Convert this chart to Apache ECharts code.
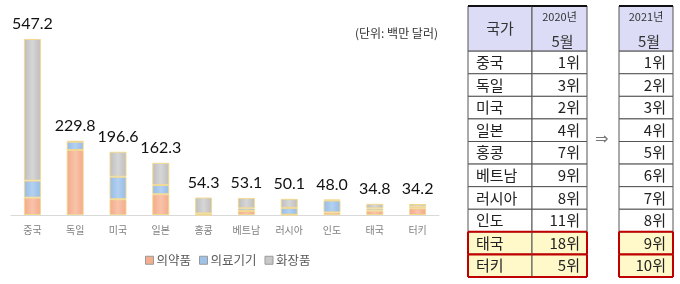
<!DOCTYPE html>
<html><head><meta charset="utf-8">
<script src="https://cdn.jsdelivr.net/npm/echarts@6/dist/echarts.min.js"></script>
<style>html,body{margin:0;padding:0;background:#fff}#c{width:680px;height:284px}</style>
</head><body><div id="c"></div>
<script>
// ---- data ----
const countries = ['중국','독일','미국','일본','홍콩','베트남','러시아','인도','태국','터키'];
const pharma    = [54, 202, 49, 64.5, 1, 12.5, 1, 8, 13.5, 20.8];
const medical   = [53, 26, 70, 29, 4, 8.3, 21, 37, 7, 5];
const cosmetics = [440.2, 1.8, 77.6, 68.8, 49.3, 32.3, 28.1, 3, 14.3, 8.4];
const totals    = [547.2, 229.8, 196.6, 162.3, 54.3, 53.1, 50.1, 48.0, 34.8, 34.2];
const seriesNames = ['의약품','의료기기','화장품'];
const unitText = '(단위: 백만 달러)';
const tableHeaderName = '국가';
const header2020 = ['2020년','5월'];
const header2021 = ['2021년','5월'];
const rank2020 = ['1위','3위','2위','4위','7위','9위','8위','11위','18위','5위'];
const rank2021 = ['1위','2위','3위','4위','5위','6위','7위','8위','9위','10위'];
const highlightRows = ['태국','터키'];

const KR = '"Noto Sans CJK KR", "Noto Sans", sans-serif';
const chart = echarts.init(document.getElementById('c'));

function grad(c1, c2) {
  return new echarts.graphic.LinearGradient(0, 0, 1, 0, [{offset:0,color:c1},{offset:0.5,color:c2},{offset:1,color:c1}]);
}
const colors = [grad('#f4a98a','#f8c3aa'), grad('#95bbe6','#b3d0f0'), grad('#bdbdbd','#d6d6d6')];
const legendColors = ['#f4ae8e','#9fc2ea','#c8c8c8'];

function tableSeries(gridIdx, kind, headerLines, cells, sides) {
  const data = [[0, 0, 2]];
  cells.forEach((c, i) => data.push([0, i + 2, i + 3]));
  return {
    type: 'custom', xAxisIndex: gridIdx, yAxisIndex: gridIdx, silent: true,
    data: data,
    renderItem: function (params, api) {
      const i = params.dataIndex;
      const p0 = api.coord([0, api.value(1)]);
      const p1 = api.coord([0, api.value(2)]);
      const w = api.size([1, 0])[0];
      const x0 = p0[0] - w / 2, x1 = p0[0] + w / 2, ya = p0[1], yb = p1[1];
      const ch = [];
      const isHeader = i === 0;
      const hl = !isHeader && highlightRows.indexOf(countries[i - 1]) >= 0;
      ch.push({type:'rect', shape:{x:x0, y:ya, width:x1-x0, height:yb-ya},
        style:{fill: isHeader ? '#dcdcf6' : (hl ? '#fff8c8' : '#fff'), stroke:'#555', lineWidth:1}});
      if (isHeader) {
        ch.push({type:'line', shape:{x1:x0, y1:ya, x2:x1, y2:ya}, style:{stroke:'#111', lineWidth:2}});
        if (headerLines.length === 1) {
          ch.push({type:'text', style:{text:headerLines[0], x:(x0+x1)/2, y:(ya+yb)/2, align:'center', verticalAlign:'middle', fontSize:15, fontFamily:KR, fill:'#333'}});
        } else {
          ch.push({type:'text', style:{text:headerLines[0], x:(x0+x1)/2, y:ya+11, align:'center', verticalAlign:'middle', fontSize:11, fontFamily:KR, fill:'#333'}});
          ch.push({type:'text', style:{text:headerLines[1], x:(x0+x1)/2 + 3, y:yb-10, align:'center', verticalAlign:'middle', fontSize:15, fontFamily:KR, fill:'#333'}});
        }
      } else {
        const t = cells[i - 1];
        ch.push({type:'text', style:{text:t, x: kind === 'name' ? x0 + 8 : x1 - 7, y:(ya+yb)/2,
          align: kind === 'name' ? 'left' : 'right', verticalAlign:'middle', fontSize:15, fontFamily:KR, fill:'#222'}});
        if (hl) {
          const rs = {stroke:'#c00000', lineWidth:2};
          ch.push({type:'line', shape:{x1:x0, y1:ya, x2:x1, y2:ya}, style:rs});
          ch.push({type:'line', shape:{x1:x0, y1:yb, x2:x1, y2:yb}, style:rs});
          if (sides.left) ch.push({type:'line', shape:{x1:x0, y1:ya, x2:x0, y2:yb}, style:rs});
          if (sides.right) ch.push({type:'line', shape:{x1:x1, y1:ya, x2:x1, y2:yb}, style:rs});
        }
      }
      return {type:'group', children: ch};
    }
  };
}

const barSeries = [pharma, medical, cosmetics].map((d, k) => ({
  name: seriesNames[k], type: 'bar', stack: 'total', barWidth: 17,
  xAxisIndex: 0, yAxisIndex: 0,
  data: d,
  itemStyle: {color: colors[k], borderColor: '#f2d88e', borderWidth: 1},
  label: k === 2 ? {show: true, position: 'top', distance: 7, fontSize: 16, fontFamily: 'Lato, "Liberation Sans", sans-serif', color: '#111',
    formatter: p => totals[p.dataIndex].toFixed(1)} : {show: false}
}));

const tableGrids = [
  {left: 468, width: 64, top: 6, height: 271},
  {left: 532, width: 55, top: 6, height: 271},
  {left: 619, width: 54, top: 6, height: 271}
];
const option = {
  animation: false,
  backgroundColor: '#fff',
  grid: [{left: 11, right: 241, top: 22, bottom: 69}].concat(tableGrids),
  xAxis: [{
    type: 'category', data: countries, gridIndex: 0,
    axisLine: {lineStyle: {color: '#d9d9d9'}}, axisTick: {show: false},
    axisLabel: {fontSize: 10, color: '#7f7f7f', margin: 10, fontFamily: KR}
  }].concat([1,2,3].map(g => ({type:'category', data:['c'], gridIndex:g, show:false}))),
  yAxis: [{type: 'value', gridIndex: 0, min: 0, max: 600, show: false, splitLine: {show: false}}]
    .concat([1,2,3].map(g => ({type:'value', gridIndex:g, min:0, max:12, inverse:true, show:false}))),
  legend: {
    data: seriesNames.map((n, k) => ({name: n, itemStyle: {color: legendColors[k], borderColor: '#999', borderWidth: 1}})),
    left: 140, top: 249, itemWidth: 8, itemHeight: 8, itemGap: 8, icon: 'rect',
    textStyle: {fontSize: 12.5, color: '#595959', fontFamily: KR, padding: [0,0,0,-2]}
  },
  graphic: [
    {type: 'text', right: 242, top: 27, style: {text: unitText, fontSize: 12, fontFamily: KR, fill: '#333'}},
    {type: 'text', left: 595, top: 132, style: {text: '⇒', fontSize: 16, fontFamily: '"DejaVu Sans"', fill: '#777'}}
  ],
  series: barSeries.concat([
    tableSeries(1, 'name', [tableHeaderName], countries, {left: true, right: false}),
    tableSeries(2, 'rank', header2020, rank2020, {left: false, right: true}),
    tableSeries(3, 'rank', header2021, rank2021, {left: true, right: true})
  ])
};
chart.setOption(option);
</script></body></html>
